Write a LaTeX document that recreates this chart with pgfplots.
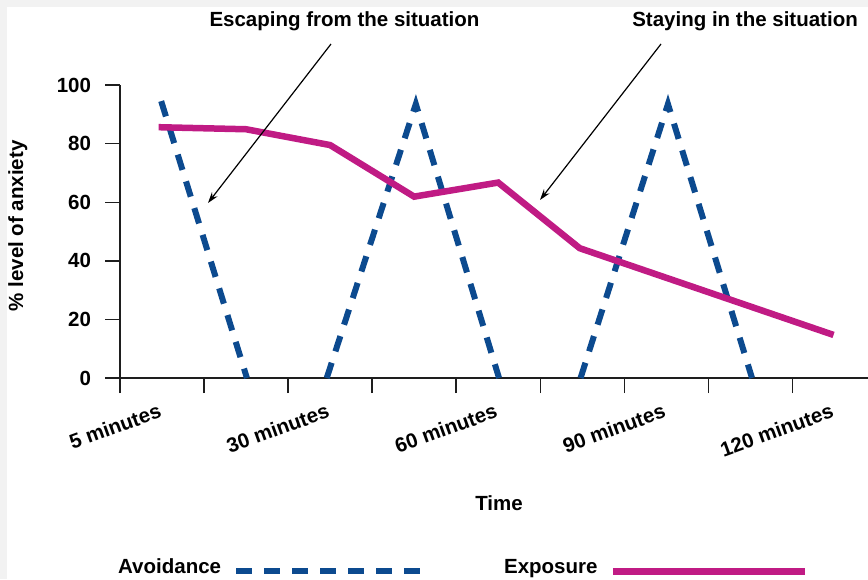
\documentclass[border=0pt]{standalone}
\usepackage{fontspec}
\setmainfont{Liberation Sans}
\usepackage{pgfplots}
\pgfplotsset{compat=1.18}
\usetikzlibrary{arrows.meta}
\definecolor{avblue}{RGB}{12,74,143}
\definecolor{exmag}{RGB}{192,27,132}
\definecolor{axgray}{RGB}{30,30,30}
\definecolor{framegray}{RGB}{242,242,242}
\newcommand\chartfont{\fontsize{20.5}{24}\selectfont\bfseries}
\begin{document}
\begin{tikzpicture}
\useasboundingbox (0pt,0pt) rectangle (868pt,-579pt);
\fill[framegray] (0pt,0pt) rectangle (868pt,-7pt);
\fill[framegray] (0pt,0pt) rectangle (7pt,-579pt);
\begin{axis}[
  at={(120pt,-378pt)}, anchor=south west,
  scale only axis, width=748pt, height=293pt,
  xmin=0, xmax=8.9, ymin=0, ymax=100,
  axis lines=left,
  axis line style={-, line width=1.4pt, draw=axgray},
  tick align=outside,
  major tick length=15pt,
  tick style={line width=1.4pt, draw=axgray},
  xtick={0,1,...,8},
  xticklabels={5 minutes,,30 minutes,,60 minutes,,90 minutes,,120 minutes},
  ytick={0,20,40,60,80,100},
  tick label style={font=\chartfont},
  /pgf/number format/assume math mode=true,
  yticklabel style={anchor=east, inner sep=0pt, outer sep=0pt, xshift=-14pt},
  xticklabel style={xshift=40pt, yshift=-17pt, anchor=east, inner sep=0pt, outer sep=0pt, rotate=20},
  xlabel={Time}, ylabel={\% level of anxiety},
  label style={font=\chartfont},
  xlabel style={at={(axis description cs:0.5067,-0.4266)}, anchor=center},
  ylabel style={at={(axis description cs:-0.1367,0.519)}, anchor=center},
  legend columns=2,
  legend plot pos=right,
  legend image code/.code={\draw[#1] (0pt,-4pt) -- (192pt,-4pt);},
  legend style={at={(axis description cs:-0.0027,-0.646)}, anchor=west,
    draw=none, fill=none, inner sep=0pt, font=\chartfont,
    nodes={inner sep=0pt},
    /tikz/every odd column/.append style={column sep=12pt},
    /tikz/every even column/.append style={column sep=73pt}},
  avoid/.style={avblue, line width=6pt, dash pattern=on 16pt off 12pt, line join=miter},
  expo/.style={exmag, line width=6.5pt, line join=miter},
]
\addplot[avoid] coordinates {(0.49,94.5) (1.51,0)};
\addplot[avoid, forget plot] coordinates {(2.46,0) (3.52,93.5) (4.51,0)};
\addplot[avoid, forget plot] coordinates {(5.48,0) (6.52,93.5) (7.52,0)};
\addplot[expo] coordinates {(0.46,85.6) (1.5,84.9) (2.5,79.5) (3.5,61.9) (4.5,66.7) (5.47,44.3) (8.49,14.7)};
\legend{Avoidance,Exposure}
\end{axis}
\node[font=\chartfont, anchor=base, inner sep=0pt] at (344.5pt,-26pt) {Escaping from the situation};
\node[font=\chartfont, anchor=base east, inner sep=0pt] at (858pt,-26pt) {Staying in the situation};
\draw[-{Stealth[length=11pt,width=7pt]}, line width=1.2pt] (331pt,-44pt) -- (208pt,-203pt);
\draw[-{Stealth[length=11pt,width=7pt]}, line width=1.2pt] (661pt,-44pt) -- (540pt,-200pt);
\end{tikzpicture}
\end{document}
